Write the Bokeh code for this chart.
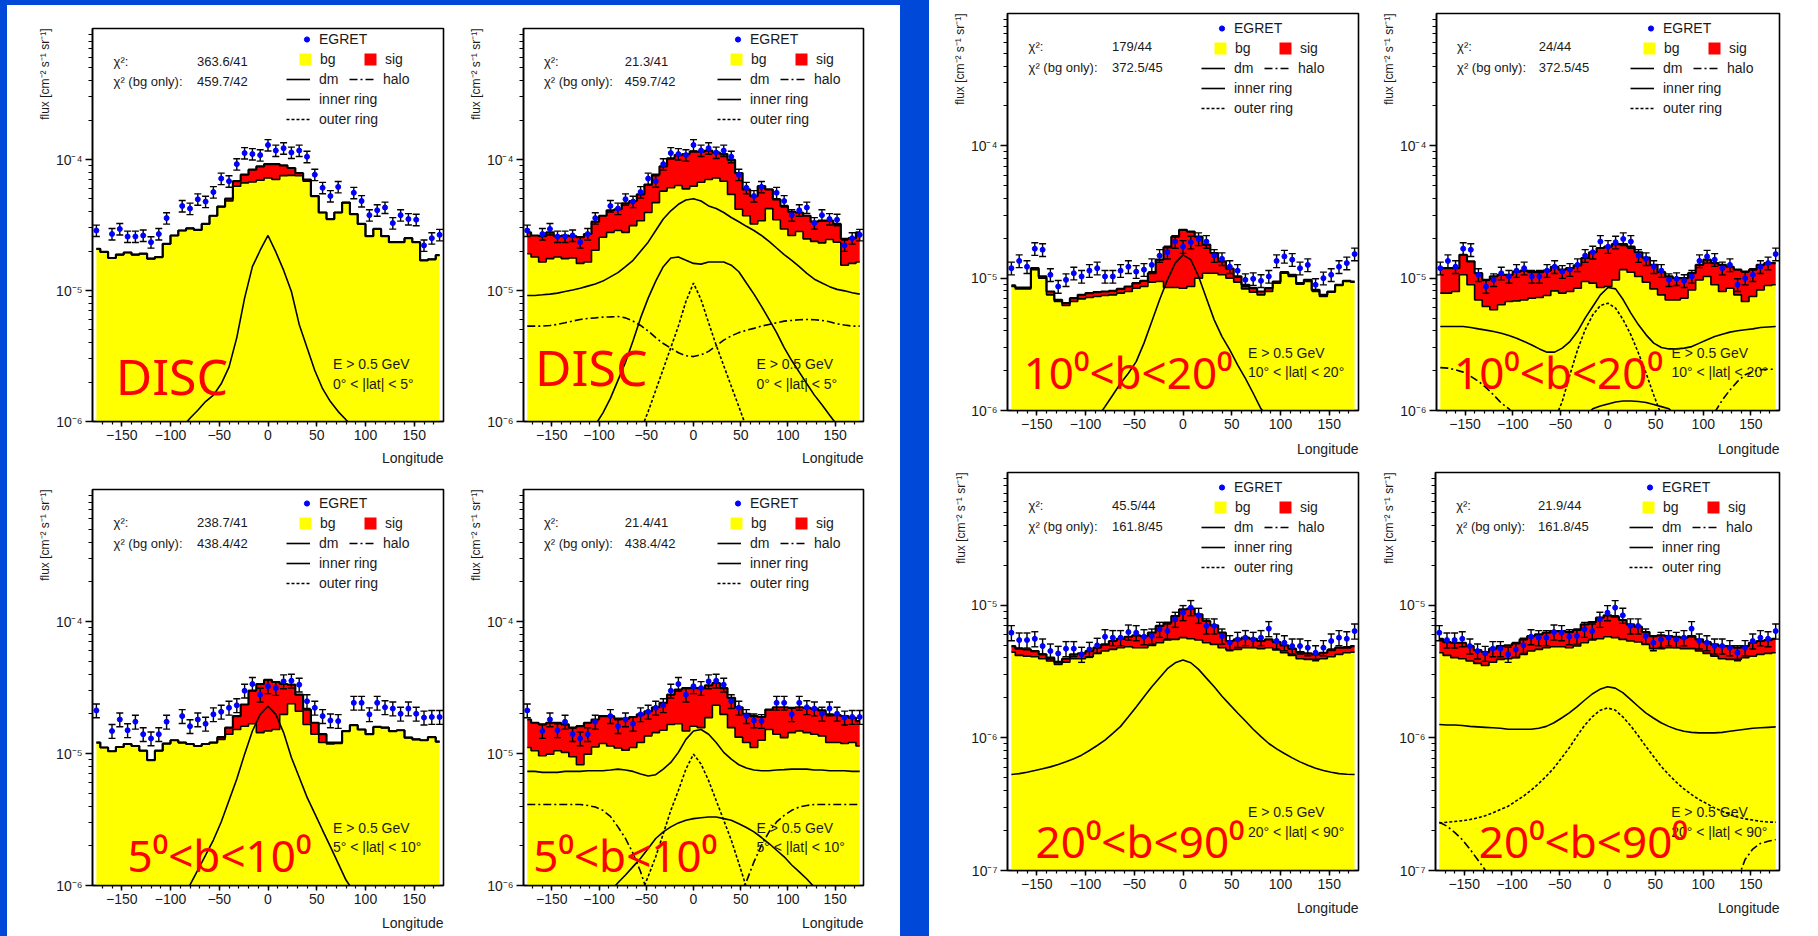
import math
import numpy as np
from bokeh.plotting import figure
from bokeh.layouts import row, column
from bokeh.models import (ColumnDataSource, Range1d, FixedTicker, CustomJSTickFormatter,
                          Label, Legend, LegendItem, Title)
from bokeh.embed import file_html
from bokeh.resources import INLINE

nan = float("nan")

# Galactic longitude bin centres (8 degree bins)
LON = list(range(-176, 177, 8))
X_TICKS = [-150, -100, -50, 0, 50, 100, 150]
X_MINOR = list(range(-170, 180, 10))


def arr(vals, unit):
    return np.array(vals, dtype=float) * unit


# ---------------- EGRET fluxes (E > 0.5 GeV) per latitude band ----------------
disc_egret = arr([2.87, nan, 2.70, 2.95, 2.58, 2.58, 2.63, 2.34, 2.70, 3.57, nan, 4.42, 4.22, 4.97, 4.77,
                  5.64, 7.15, 6.83, 9.22, 11.2, 11.0, 10.8, 12.9, 11.7, 12.2, 11.3, 11.7, 10.5, 7.66, 6.08,
                  5.26, 6.18, nan, 5.57, 4.82, 3.76, 4.10, 4.30, 3.27, 3.76, 3.51, 3.47, 2.21, 2.51, 2.66], 1e-5)
lat5_egret = arr([2.12, nan, 1.48, 1.81, 1.50, 1.74, 1.40, 1.30, 1.40, 1.74, nan, 1.92, 1.61, 1.81, 1.68,
                  1.98, 2.07, 2.22, 2.32, 2.99, 3.36, 2.79, 3.23, 3.13, 3.52, 3.56, 3.32, 2.49, 2.22, 1.92,
                  1.78, 1.76, nan, 2.42, 2.42, 1.98, 2.42, 2.24, 2.19, 2.00, 2.19, 2.00, 1.87, 1.89, 1.89], 1e-5)
lat10_egret = arr([1.19, 1.35, 1.22, 1.67, 1.64, 1.06, 0.865, 0.971, 1.09, 1.03, 1.14, 1.19, 1.03, 1.03, 1.14,
                   1.22, 1.12, 1.16, 1.26, 1.48, 1.57, 1.89, 1.73, 1.87, 1.98, 1.89, 1.48, 1.40, 1.22, 1.14,
                   0.971, 0.988, 0.955, 1.03, 1.35, 1.46, 1.38, 1.19, 1.26, 0.891, 1.00, 1.06, 1.22, 1.30, 1.52], 1e-5)
lat20_egret = arr([6.20, 5.46, 5.46, 5.58, 4.92, 4.51, 4.33, 4.70, 4.70, 4.26, 4.64, 4.98, 5.78, 5.69, 5.69,
                   6.27, 6.20, 5.78, 5.85, 6.57, 6.38, 7.82, 8.78, 9.58, 8.38, 6.97, 6.97, 5.85, 5.21, 5.52,
                   5.69, 5.52, 5.69, 6.65, 5.37, 5.21, 4.92, 4.92, 4.78, 4.38, 4.78, 5.37, 5.69, 5.58, 6.38], 1e-6)

# relative error of the EGRET points per band
REL_ERR = {"disc": 0.10, "lat5": 0.12, "lat10": 0.11, "lat20": 0.13}

# ---------------- conventional fits (background only shape) ----------------
disc_std_total = arr([2.08, 1.97, 1.77, 1.88, 1.95, 1.88, 1.91, 1.75, 1.80, 2.27, 2.63, 2.87, 2.98, 2.90, 3.22,
                      3.72, 4.37, 5.02, 6.83, 7.66, 8.36, 8.85, 9.22, 9.22, 9.01, 8.61, 7.89, 7.03, 5.26, 3.94,
                      3.51, 3.94, 4.69, 3.83, 3.22, 2.60, 2.95, 2.60, 2.34, 2.34, 2.51, 2.34, 1.70, 1.73, 1.86], 1e-5)
disc_std_bg = arr([2.08, 1.97, 1.77, 1.88, 1.95, 1.88, 1.91, 1.75, 1.80, 2.27, 2.63, 2.87, 2.98, 2.90, 3.22,
                   3.72, 4.37, 4.82, 6.26, 6.63, 6.75, 6.95, 7.23, 7.03, 7.53, 7.57, 7.53, 6.83, 5.26, 3.94,
                   3.51, 3.94, 4.69, 3.83, 3.22, 2.60, 2.95, 2.60, 2.34, 2.34, 2.51, 2.34, 1.70, 1.73, 1.86], 1e-5)
disc_std_ring = arr([nan] * 11 + [0.09, 0.106, 0.122, 0.142, 0.159, 0.194, 0.260, 0.437, 0.875, 1.52, 2.03,
                                  2.63, 1.97, 1.43, 0.983, 0.551, 0.367, 0.245, 0.178, 0.142, 0.119, 0.103,
                                  0.09] + [nan] * 11, 1e-5)

lat5_std_total = arr([1.21, 1.11, 1.04, 1.12, 1.18, 1.14, 1.05, 0.891, 1.05, 1.19, 1.26, 1.21, 1.18, 1.14, 1.18,
                      1.21, 1.33, 1.57, 1.92, 2.35, 2.99, 3.36, 3.62, 3.48, 3.36, 3.32, 2.79, 2.15, 1.71, 1.40,
                      1.21, 1.21, 1.48, 1.64, 1.52, 1.40, 1.59, 1.57, 1.48, 1.50, 1.32, 1.28, 1.26, 1.33, 1.23], 1e-5)
lat5_std_bg = arr([1.21, 1.11, 1.04, 1.12, 1.18, 1.14, 1.05, 0.891, 1.05, 1.19, 1.26, 1.21, 1.18, 1.14, 1.18,
                   1.21, 1.28, 1.40, 1.52, 1.61, 1.68, 1.44, 1.48, 1.52, 1.98, 2.38, 2.09, 1.66, 1.40, 1.21,
                   1.18, 1.19, 1.48, 1.64, 1.52, 1.40, 1.59, 1.57, 1.48, 1.50, 1.32, 1.28, 1.26, 1.33, 1.23], 1e-5)
lat5_std_ring = arr([nan] * 11 + [0.085, 0.101, 0.131, 0.170, 0.221, 0.303, 0.441, 0.641, 0.989, 1.48, 1.98,
                                  2.28, 1.98, 1.44, 0.933, 0.660, 0.467, 0.350, 0.262, 0.197, 0.147, 0.110,
                                  0.090] + [nan] * 11, 1e-5)

lat10_std_total = arr([0.881, 0.850, 0.850, 1.19, 1.03, 0.793, 0.686, 0.647, 0.706, 0.748, 0.771, 0.784, 0.793,
                       0.802, 0.830, 0.865, 0.917, 0.955, 1.09, 1.38, 1.71, 2.06, 2.32, 2.25, 2.06, 1.79, 1.55,
                       1.34, 1.18, 1.03, 0.891, 0.840, 0.793, 0.840, 0.944, 1.11, 1.06, 0.917, 0.971, 0.816,
                       0.748, 0.793, 0.891, 0.955, 0.944], 1e-5)
lat10_std_bg = arr([0.865, 0.830, 0.830, 1.16, 1.00, 0.748, 0.667, 0.621, 0.667, 0.698, 0.714, 0.727, 0.740,
                    0.748, 0.771, 0.793, 0.840, 0.865, 0.933, 0.944, 0.850, 0.850, 0.840, 0.865, 1.00, 1.09,
                    1.09, 1.06, 1.00, 0.933, 0.830, 0.784, 0.748, 0.793, 0.917, 1.09, 1.03, 0.901, 0.944, 0.802,
                    0.727, 0.784, 0.881, 0.944, 0.933], 1e-5)
lat10_std_ring = arr([nan] * 11 + [0.088, 0.107, 0.131, 0.161, 0.191, 0.234, 0.323, 0.471, 0.686, 0.971, 1.30,
                                   1.50, 1.38, 1.03, 0.706, 0.484, 0.362, 0.287, 0.221, 0.175, 0.135, 0.103,
                                   0.088] + [nan] * 11, 1e-5)

lat20_std_total = arr([4.92, 4.70, 4.64, 4.51, 4.26, 4.02, 3.72, 3.95, 4.26, 4.33, 4.51, 4.78, 5.06, 5.37, 5.58,
                       5.78, 5.92, 5.85, 6.20, 6.97, 7.38, 8.28, 9.30, 9.41, 8.53, 7.60, 7.05, 6.20, 5.37, 5.52,
                       5.69, 5.58, 5.37, 5.52, 5.27, 4.98, 4.70, 4.43, 4.33, 4.26, 4.38, 4.59, 4.78, 4.78, 4.92], 1e-6)
lat20_std_bg = arr([4.43, 4.18, 4.13, 4.09, 3.95, 3.79, 3.58, 3.72, 3.95, 3.95, 4.09, 4.33, 4.51, 4.64, 4.78,
                    4.86, 4.78, 4.78, 4.98, 5.21, 5.46, 5.52, 5.69, 5.58, 5.46, 5.21, 5.06, 4.78, 4.59, 4.64,
                    4.78, 4.78, 4.70, 4.78, 4.59, 4.38, 4.18, 3.95, 3.90, 3.90, 3.95, 4.09, 4.26, 4.38, 4.43], 1e-6)
lat20_std_ring = arr([0.529, 0.537, 0.551, 0.567, 0.584, 0.604, 0.629, 0.659, 0.695, 0.740, 0.802, 0.875, 0.960,
                      1.08, 1.22, 1.44, 1.71, 2.04, 2.43, 2.84, 3.32, 3.68, 3.86, 3.68, 3.28, 2.82, 2.43, 2.06,
                      1.78, 1.54, 1.34, 1.16, 1.02, 0.906, 0.826, 0.762, 0.706, 0.659, 0.622, 0.590, 0.567,
                      0.551, 0.537, 0.532, 0.529], 1e-6)

# ---------------- fits including the dark matter signal ----------------
disc_dm_total = arr([2.78, 2.63, 2.60, 2.78, 2.60, 2.63, 2.60, 2.55, 2.70, 3.35, 3.72, 4.10, 4.17, 4.63, 4.82,
                     5.42, 6.44, 7.66, 8.85, 10.2, 10.8, 11.0, 11.5, 11.5, 11.7, 11.3, 11.0, 9.94, 7.89, 5.91,
                     5.26, 6.26, 5.91, 4.97, 4.42, 3.99, 3.94, 3.72, 3.35, 3.41, 3.41, 3.22, 2.48, 2.51, 2.78], 1e-5)
disc_dm_bg = arr([1.91, 1.80, 1.65, 1.75, 1.80, 1.75, 1.77, 1.61, 1.65, 2.03, 2.55, 2.78, 2.87, 2.78, 3.13,
                  3.41, 3.94, 4.69, 5.74, 6.08, 6.33, 5.97, 6.26, 6.71, 7.03, 7.23, 6.83, 5.42, 4.17, 3.72,
                  3.22, 3.41, 4.22, 3.47, 2.95, 2.63, 2.82, 2.48, 2.37, 2.31, 2.45, 2.34, 1.56, 1.61, 1.65], 1e-5)
disc_dm_dm = arr([0.917, 0.917, 0.927, 0.938, 0.955, 0.983, 1.01, 1.04, 1.08, 1.12, 1.18, 1.27, 1.37, 1.52,
                  1.70, 1.99, 2.34, 2.87, 3.51, 4.06, 4.55, 4.91, 5.02, 4.82, 4.42, 4.22, 3.94, 3.61, 3.35,
                  3.09, 2.87, 2.63, 2.37, 2.11, 1.88, 1.70, 1.52, 1.35, 1.22, 1.14, 1.07, 1.02, 0.994, 0.960,
                  0.938], 1e-5)
disc_dm_inner = arr([nan] * 9 + [0.094, 0.116, 0.150, 0.206, 0.283, 0.413, 0.618, 0.875, 1.18, 1.52, 1.77, 1.80,
                                 1.70, 1.61, 1.59, 1.65, 1.65, 1.65, 1.56, 1.39, 1.14, 0.938, 0.757, 0.601, 0.477,
                                 0.367, 0.292, 0.238, 0.194, 0.159, 0.134, 0.112, 0.094] + [nan] * 3, 1e-5)
disc_dm_outer = arr([nan] * 15 + [0.085, 0.119, 0.173, 0.252, 0.367, 0.535, 0.826, 1.14, 0.851, 0.567, 0.383,
                                  0.267, 0.186, 0.130, 0.090] + [nan] * 15, 1e-5)
disc_dm_halo = arr([0.535, 0.535, 0.535, 0.541, 0.551, 0.567, 0.584, 0.601, 0.612, 0.618, 0.626, 0.629, 0.633,
                    0.618, 0.584, 0.541, 0.491, 0.437, 0.394, 0.363, 0.335, 0.318, 0.313, 0.323, 0.343, 0.378,
                    0.418, 0.450, 0.477, 0.497, 0.514, 0.535, 0.551, 0.567, 0.584, 0.591, 0.598, 0.601, 0.598,
                    0.591, 0.577, 0.557, 0.545, 0.535, 0.535], 1e-5)

lat5_dm_total = arr([1.81, 1.71, 1.66, 1.71, 1.71, 1.66, 1.57, 1.61, 1.71, 1.81, 1.92, 1.92, 1.84, 1.84, 1.89,
                     1.98, 2.09, 2.24, 2.42, 2.79, 3.05, 3.13, 3.13, 3.13, 3.28, 3.42, 3.13, 2.64, 2.24, 2.00,
                     1.92, 1.89, 2.15, 2.24, 2.24, 2.22, 2.24, 2.22, 2.19, 2.12, 1.98, 1.95, 1.92, 1.87, 1.76], 1e-5)
lat5_dm_bg = arr([1.11, 1.05, 0.961, 0.989, 1.05, 1.02, 0.944, 0.822, 0.989, 1.12, 1.19, 1.14, 1.10, 1.06, 1.11,
                  1.21, 1.36, 1.44, 1.50, 1.66, 1.68, 1.48, 1.61, 1.57, 1.87, 2.32, 1.98, 1.57, 1.33, 1.21,
                  1.11, 1.26, 1.52, 1.40, 1.32, 1.44, 1.48, 1.44, 1.40, 1.36, 1.21, 1.21, 1.19, 1.21, 1.14], 1e-5)
lat5_dm_dm = arr([0.732, 0.732, 0.720, 0.720, 0.720, 0.732, 0.732, 0.732, 0.741, 0.741, 0.741, 0.749, 0.762,
                  0.749, 0.732, 0.699, 0.676, 0.691, 0.762, 0.856, 1.02, 1.28, 1.48, 1.52, 1.40, 1.21, 1.02,
                  0.906, 0.822, 0.776, 0.749, 0.741, 0.741, 0.749, 0.755, 0.762, 0.762, 0.762, 0.749, 0.749,
                  0.741, 0.741, 0.741, 0.732, 0.732], 1e-5)
lat5_dm_inner = arr([nan] * 11 + [0.09, 0.105, 0.120, 0.139, 0.161, 0.191, 0.227, 0.255, 0.278, 0.298, 0.312,
                                  0.321, 0.326, 0.330, 0.330, 0.321, 0.312, 0.294, 0.275, 0.255, 0.231, 0.208,
                                  0.185, 0.165, 0.143, 0.127, 0.112, 0.097] + [nan] * 6, 1e-5)
lat5_dm_outer = arr([nan] * 15 + [0.085, 0.117, 0.165, 0.247, 0.371, 0.524, 0.762, 0.989, 0.832, 0.623, 0.441,
                                  0.312, 0.221, 0.147, 0.097] + [nan] * 15, 1e-5)
lat5_dm_halo = arr([0.411, 0.411, 0.411, 0.411, 0.411, 0.411, 0.411, 0.411, 0.404, 0.393, 0.371, 0.334, 0.278,
                    0.227, 0.175, 0.127, 0.085] + [nan] * 11 +
                   [0.085, 0.107, 0.151, 0.202, 0.255, 0.303, 0.340, 0.371, 0.393, 0.404,
                    0.411, 0.411, 0.411, 0.411, 0.411, 0.411, 0.411], 1e-5)

lat10_dm_total = arr([1.19, 1.19, 1.19, 1.50, 1.34, 1.09, 0.971, 1.03, 1.06, 1.06, 1.12, 1.14, 1.11, 1.11, 1.14,
                      1.22, 1.16, 1.19, 1.25, 1.42, 1.57, 1.69, 1.73, 1.81, 1.81, 1.73, 1.57, 1.43, 1.26, 1.11,
                      1.03, 1.00, 1.00, 1.09, 1.26, 1.38, 1.30, 1.26, 1.22, 1.16, 1.12, 1.16, 1.26, 1.30, 1.30], 1e-5)
lat10_dm_bg = arr([0.771, 0.771, 0.793, 1.06, 0.891, 0.686, 0.611, 0.577, 0.629, 0.667, 0.674, 0.686, 0.706,
                   0.714, 0.740, 0.802, 0.771, 0.793, 0.840, 0.944, 0.917, 0.850, 0.865, 0.971, 1.16, 1.11,
                   1.03, 0.933, 0.830, 0.748, 0.686, 0.686, 0.706, 0.816, 0.971, 1.03, 0.891, 0.793, 0.840,
                   0.748, 0.667, 0.727, 0.816, 0.881, 0.891], 1e-5)
lat10_dm_dm = arr([0.431, 0.431, 0.431, 0.431, 0.424, 0.414, 0.405, 0.395, 0.384, 0.369, 0.352, 0.332, 0.313,
                   0.292, 0.276, 0.276, 0.296, 0.332, 0.395, 0.499, 0.611, 0.748, 0.850, 0.830, 0.686, 0.544,
                   0.444, 0.373, 0.323, 0.299, 0.292, 0.292, 0.296, 0.304, 0.323, 0.342, 0.362, 0.377, 0.391,
                   0.400, 0.407, 0.414, 0.424, 0.428, 0.431], 1e-5)
lat10_dm_inner = arr([nan] * 19 + [0.09, 0.103, 0.108, 0.112, 0.116, 0.118, 0.118, 0.117, 0.115, 0.111, 0.107,
                                   0.103, 0.09] + [nan] * 13, 1e-5)
lat10_dm_outer = arr([nan] * 15 + [0.085, 0.117, 0.186, 0.287, 0.407, 0.528, 0.621, 0.647, 0.593, 0.484, 0.373,
                                   0.271, 0.191, 0.131, 0.092] + [nan] * 15, 1e-5)
lat10_dm_halo = arr([0.211, 0.209, 0.203, 0.195, 0.181, 0.166, 0.149, 0.131, 0.114, 0.103, 0.09] + [nan] * 25 +
                    [0.097, 0.120, 0.143, 0.166, 0.186, 0.197, 0.203, 0.205, 0.205], 1e-5)

lat20_dm_total = arr([5.58, 5.27, 5.21, 5.21, 4.92, 4.59, 4.43, 4.70, 4.92, 4.98, 5.15, 5.52, 5.85, 6.02, 6.20,
                      6.38, 6.38, 6.27, 6.50, 7.17, 7.46, 8.05, 8.38, 8.19, 7.73, 7.17, 6.88, 6.27, 5.85, 5.92,
                      5.85, 5.78, 5.69, 5.85, 5.52, 5.27, 5.06, 4.92, 4.92, 4.78, 4.92, 5.21, 5.37, 5.46, 5.58], 1e-6)
lat20_dm_bg = arr([4.38, 4.18, 4.02, 3.95, 3.79, 3.64, 3.51, 3.72, 3.90, 3.95, 4.02, 4.26, 4.51, 4.64, 4.78,
                   4.86, 4.86, 4.78, 4.92, 5.21, 5.46, 5.58, 5.78, 5.69, 5.52, 5.37, 5.27, 5.06, 4.70, 4.70,
                   4.78, 4.78, 4.70, 4.70, 4.51, 4.33, 4.13, 3.95, 3.90, 3.90, 4.02, 4.13, 4.26, 4.33, 4.38], 1e-6)
lat20_dm_dm = arr([1.26, 1.25, 1.25, 1.24, 1.22, 1.21, 1.20, 1.19, 1.18, 1.16, 1.16, 1.16, 1.16, 1.18, 1.22,
                   1.30, 1.41, 1.54, 1.71, 1.92, 2.14, 2.32, 2.43, 2.37, 2.19, 1.95, 1.73, 1.54, 1.41, 1.30,
                   1.22, 1.16, 1.12, 1.10, 1.09, 1.09, 1.09, 1.10, 1.12, 1.14, 1.16, 1.18, 1.19, 1.20, 1.21], 1e-6)
lat20_dm_outer = arr([0.228, 0.231, 0.234, 0.237, 0.242, 0.249, 0.259, 0.272, 0.288, 0.305, 0.333, 0.363, 0.403,
                      0.452, 0.514, 0.594, 0.706, 0.841, 1.03, 1.24, 1.44, 1.61, 1.68, 1.62, 1.44, 1.24, 1.04,
                      0.865, 0.727, 0.611, 0.529, 0.463, 0.412, 0.373, 0.342, 0.319, 0.296, 0.280, 0.264, 0.253,
                      0.245, 0.240, 0.235, 0.232, 0.231], 1e-6)
lat20_dm_halo = arr([0.231, 0.216, 0.194, 0.171, 0.145, 0.121, 0.101, 0.085] + [nan] * 31 +
                    [0.085, 0.121, 0.145, 0.160, 0.166, 0.171], 1e-6)

# chi^2 of the fits and of the background-only fits
CHI2 = {
    ("disc", "std"): "363.6/41", ("disc", "dm"): "21.3/41", ("disc", "bg"): "459.7/42",
    ("lat5", "std"): "238.7/41", ("lat5", "dm"): "21.4/41", ("lat5", "bg"): "438.4/42",
    ("lat10", "std"): "179/44", ("lat10", "dm"): "24/44", ("lat10", "bg"): "372.5/45",
    ("lat20", "std"): "45.5/44", ("lat20", "dm"): "21.9/44", ("lat20", "bg"): "161.8/45",
}
LAT_TEXT = {"disc": "0° < |lat| < 5°", "lat5": "5° < |lat| < 10°",
            "lat10": "10° < |lat| < 20°", "lat20": "20° < |lat| < 90°"}
TAG_TEXT = {"disc": "DISC", "lat5": "5⁰<b<10⁰", "lat10": "10⁰<b<20⁰", "lat20": "20⁰<b<90⁰"}

# ---------------- styling ----------------
YEL = "#ffff00"
RED = "#ff0000"
INK = "#000000"
TXT = "#1a1a1a"
DOT_BLUE = "#0000ff"
EDGE_BLUE = "#0049d8"
FONT = "Liberation Sans"
DASH = {"dm": "solid", "inner ring": "solid", "outer ring": "3 2", "halo": "8 3 2 3"}

SUP_FORMAT = """
const e = Math.round(Math.log10(tick));
const sup = {"-": "\u207b", "0": "\u2070", "1": "\u00b9", "2": "\u00b2", "3": "\u00b3", "4": "\u2074",
             "5": "\u2075", "6": "\u2076", "7": "\u2077", "8": "\u2078", "9": "\u2079"};
return "10" + String(e).split("").map(c => sup[c]).join("");
"""


def at(yr, fx, fy):
    a, b = math.log10(yr[0]), math.log10(yr[1])
    return -180 + 360 * fx, 10 ** (a + (b - a) * fy)


def add_legend(p, fh, entries, x, yc, gw, gh, standoff):
    n = len(entries)
    leg = Legend(items=[LegendItem(label=t, renderers=[r]) for t, r in entries],
                 location=(x, fh - (yc - gh / 2) - n * gh),
                 orientation="vertical", glyph_width=gw, glyph_height=gh, label_height=gh,
                 label_width=10, spacing=0, label_standoff=standoff, padding=0, margin=0,
                 border_line_color=None, background_fill_alpha=0,
                 label_text_font_size="14px", label_text_font=FONT, label_text_color=TXT)
    p.add_layout(leg)


def build(box, yr, band, fit, egret, bg, total, curves, tag_at, tag_size, xlab_gap):
    w, h, bl, br, bt, bb = box
    fh = h - bt - bb
    p = figure(width=w, height=h, y_axis_type="log",
               x_range=Range1d(-180, 180), y_range=Range1d(yr[0], yr[1]),
               output_backend="svg", toolbar_location=None,
               min_border_left=bl, min_border_right=br, min_border_top=bt, min_border_bottom=bb,
               background_fill_color="white", border_fill_color="white")
    p.grid.visible = False
    p.outline_line_color = INK
    p.outline_line_width = 1.6

    lo_e, hi_e = round(math.log10(yr[0])), round(math.log10(yr[1]))
    xa, ya = p.xaxis[0], p.yaxis[0]
    xa.ticker = FixedTicker(ticks=X_TICKS, minor_ticks=X_MINOR)
    ya.ticker = FixedTicker(ticks=[10.0 ** e for e in range(lo_e, hi_e)],
                            minor_ticks=[k * 10.0 ** e for e in range(lo_e, hi_e) for k in range(2, 10)])
    ya.formatter = CustomJSTickFormatter(code=SUP_FORMAT)
    for ax in (xa, ya):
        ax.axis_line_color = INK
        ax.axis_line_width = 1.5
        ax.major_tick_line_color = INK
        ax.minor_tick_line_color = INK
        ax.major_tick_line_width = 1.5
        ax.minor_tick_line_width = 1.2
        ax.major_tick_in = 0
        ax.minor_tick_in = 0
        ax.major_label_text_font = FONT
        ax.major_label_text_color = TXT
        ax.major_label_standoff = 3
    xa.major_tick_out = 5
    xa.minor_tick_out = 3
    xa.major_label_text_font_size = "14px"
    ya.major_tick_out = 7
    ya.minor_tick_out = 4
    ya.major_label_text_font_size = "14px"

    p.add_layout(Title(text="flux [cm⁻² s⁻¹ sr⁻¹]", align="right", text_font_size="12px",
                       text_font_style="normal", text_font=FONT, text_color=TXT, standoff=2), "left")
    p.add_layout(Title(text="Longitude", align="right", text_font_size="14px",
                       text_font_style="normal", text_font=FONT, text_color=TXT, standoff=xlab_gap), "below")

    # stacked background and signal
    src = ColumnDataSource(dict(lon=LON, bg=bg, tot=total))
    p.varea_step(x="lon", y1=yr[0], y2="bg", step_mode="center", source=src, fill_color=YEL)
    p.varea_step(x="lon", y1="bg", y2="tot", step_mode="center", source=src, fill_color=RED)
    p.step(x="lon", y="bg", mode="center", source=src, line_color=INK, line_width=1.6)
    p.step(x="lon", y="tot", mode="center", source=src, line_color=INK, line_width=2.2)

    # individual components
    for kind, vals in curves:
        p.line(x=LON, y=vals, line_color=INK, line_width=1.6, line_dash=DASH[kind])

    # EGRET data with error bars
    keep = [i for i, v in enumerate(egret) if v == v]
    ex = [LON[i] for i in keep]
    ey = [float(egret[i]) for i in keep]
    err = REL_ERR[band]
    dsrc = ColumnDataSource(dict(x=ex, y=ey, lo=[v * (1 - err) for v in ey], hi=[v * (1 + err) for v in ey]))
    p.segment(x0="x", y0="lo", x1="x", y1="hi", source=dsrc, line_color=INK, line_width=1.4)
    p.scatter(x="x", y="lo", marker="dash", size=7, source=dsrc, line_color=INK, line_width=1.4)
    p.scatter(x="x", y="hi", marker="dash", size=7, source=dsrc, line_color=INK, line_width=1.4)
    r_egret = p.scatter(x="x", y="y", marker="circle", size=5, source=dsrc,
                        fill_color=DOT_BLUE, line_color=DOT_BLUE)

    # legend keys: renderers parked outside the visible longitude range
    park = ColumnDataSource(dict(x=[1000.0, 1001.0], y=[yr[0] * 10, yr[0] * 10]))
    r_bg = p.scatter(x="x", y="y", marker="square", source=park, fill_color=YEL, line_color=None)
    r_sig = p.scatter(x="x", y="y", marker="square", source=park, fill_color=RED, line_color=None)
    r_keys = {k: p.line(x="x", y="y", source=park, line_color=INK, line_width=1.6, line_dash=d)
              for k, d in DASH.items()}
    add_legend(p, fh, [("EGRET", r_egret)], 208, 15, 13, 20, 6)
    add_legend(p, fh, [("bg", r_bg)], 198, 35, 30, 30, -1)
    add_legend(p, fh, [("sig", r_sig)], 263, 35, 30, 30, -2)
    add_legend(p, fh, [("dm", r_keys["dm"]), ("inner ring", r_keys["inner ring"]),
                       ("outer ring", r_keys["outer ring"])], 194, 55, 24, 20, 9)
    add_legend(p, fh, [("halo", r_keys["halo"])], 257, 55, 26, 20, 8)

    # fit quality
    for text, fx, fy in [("χ²:", 0.06, 0.917), ("χ² (bg only):", 0.06, 0.864),
                         (CHI2[(band, fit)], 0.298, 0.917), (CHI2[(band, "bg")], 0.298, 0.864)]:
        x, y = at(yr, fx, fy)
        p.add_layout(Label(x=x, y=y, text=text, text_font=FONT, text_font_size="13px",
                           text_color=TXT, text_baseline="middle", text_align="left"))
    for text, fy in [("E > 0.5 GeV", 0.146), (LAT_TEXT[band], 0.096)]:
        x, y = at(yr, 0.685, fy)
        p.add_layout(Label(x=x, y=y, text=text, text_font=FONT, text_font_size="14px",
                           text_color=TXT, text_baseline="middle", text_align="left"))
    x, y = at(yr, tag_at[0], tag_at[1])
    p.add_layout(Label(x=x, y=y, text=TAG_TEXT[band], text_font="Noto Sans", text_font_size=tag_size,
                       text_color=RED, text_baseline="middle", text_align="left"))
    return p


LEFT_TOP = (458, 465, 85, 22, 23, 45)
RIGHT_TOP = (435, 465, 48, 37, 23, 45)
LEFT_BOT = (458, 466, 85, 22, 19, 50)
RIGHT_BOT = (435, 466, 48, 37, 19, 50)
R_LEFT_TOP = (449, 466, 78, 20, 13, 56)
R_RIGHT_TOP = (440, 466, 51, 39, 13, 56)
R_LEFT_BOT = (449, 470, 78, 20, 6, 66)
R_RIGHT_BOT = (440, 470, 51, 39, 6, 66)

HI_RANGE = (1e-6, 1e-3)
LO_RANGE = (1e-7, 1e-4)

p1 = build(LEFT_TOP, HI_RANGE, "disc", "std", disc_egret, disc_std_bg, disc_std_total,
           [("dm", disc_std_ring)], (0.066, 0.116), "50px", 10)
p2 = build(RIGHT_TOP, HI_RANGE, "disc", "dm", disc_egret, disc_dm_bg, disc_dm_total,
           [("dm", disc_dm_dm), ("inner ring", disc_dm_inner), ("outer ring", disc_dm_outer),
            ("halo", disc_dm_halo)], (0.034, 0.139), "50px", 10)
p3 = build(LEFT_BOT, HI_RANGE, "lat5", "std", lat5_egret, lat5_std_bg, lat5_std_total,
           [("dm", lat5_std_ring)], (0.10, 0.078), "44px", 12)
p4 = build(RIGHT_BOT, HI_RANGE, "lat5", "dm", lat5_egret, lat5_dm_bg, lat5_dm_total,
           [("dm", lat5_dm_dm), ("inner ring", lat5_dm_inner), ("outer ring", lat5_dm_outer),
            ("halo", lat5_dm_halo)], (0.029, 0.078), "44px", 12)
p5 = build(R_LEFT_TOP, HI_RANGE, "lat10", "std", lat10_egret, lat10_std_bg, lat10_std_total,
           [("dm", lat10_std_ring)], (0.046, 0.096), "44px", 14)
p6 = build(R_RIGHT_TOP, HI_RANGE, "lat10", "dm", lat10_egret, lat10_dm_bg, lat10_dm_total,
           [("dm", lat10_dm_dm), ("inner ring", lat10_dm_inner), ("outer ring", lat10_dm_outer),
            ("halo", lat10_dm_halo)], (0.051, 0.096), "44px", 14)
p7 = build(R_LEFT_BOT, LO_RANGE, "lat20", "std", lat20_egret, lat20_std_bg, lat20_std_total,
           [("dm", lat20_std_ring)], (0.08, 0.075), "44px", 13)
p8 = build(R_RIGHT_BOT, LO_RANGE, "lat20", "dm", lat20_egret, lat20_dm_bg, lat20_dm_total,
           [("dm", lat20_dm_dm), ("outer ring", lat20_dm_outer), ("halo", lat20_dm_halo)],
           (0.126, 0.075), "44px", 13)

# left group sits on a blue frame, right group on plain white
inner_left = column(row(p1, p2, spacing=0), row(p3, p4, spacing=0), spacing=0,
                    styles={"background-color": "white"})
inner_left.margin = (5, 29, 0, 7)
left = column(inner_left, spacing=0, styles={"background-color": EDGE_BLUE})
right = column(row(p5, p6, spacing=0), row(p7, p8, spacing=0), spacing=0,
               styles={"background-color": "white"})
page = row(left, right, spacing=0)

open("out.html", "w").write(file_html(page, INLINE))
